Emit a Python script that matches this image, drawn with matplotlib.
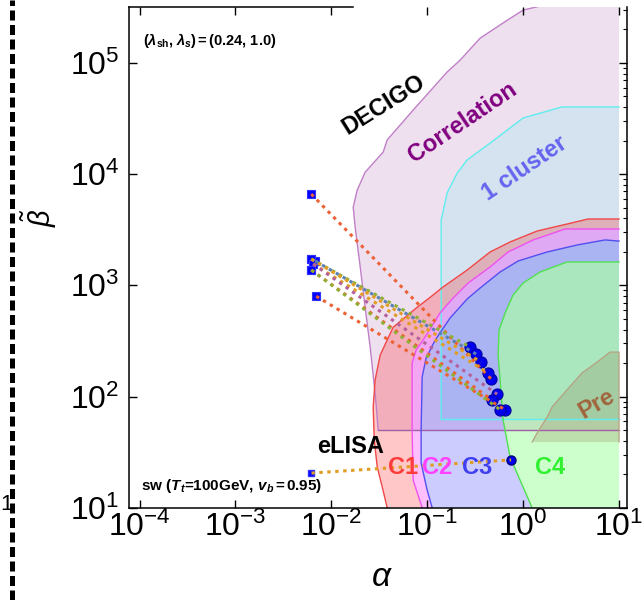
import numpy as np
import matplotlib
matplotlib.use("Agg")
import matplotlib.pyplot as plt
from matplotlib.lines import Line2D

plt.rcParams.update({
    "font.family": ["Liberation Sans", "DejaVu Sans"],
    "mathtext.fontset": "custom",
    "mathtext.rm": "Liberation Sans",
    "mathtext.it": "Liberation Sans:italic",
    "mathtext.bf": "Liberation Sans:bold",
    "mathtext.bfit": "Liberation Sans:italic:bold",
    "mathtext.sf": "Liberation Sans",
})

# ---- detector sensitivity regions, boundaries as (alpha, beta) ----
decigo_alpha = [0.0308, 0.0286, 0.0254, 0.0225, 0.0200, 0.0177, 0.0169, 0.0186, 0.0225,
                0.0347, 0.0382, 0.0713, 0.161, 0.220, 0.356, 0.618, 1.0, 2.05, 10.0]
decigo_beta = [50, 107, 277, 634, 1458, 3340, 5050, 7190, 10400,
               15800, 20300, 37700, 82800, 106000, 167000, 229000, 299000, 346000, 400000]
decigo_floor = 50.0

cluster_alpha = [0.1397, 0.1397, 0.161, 0.205, 0.260, 0.452, 1.0, 2.54, 10.0]
cluster_beta = [62.8, 3850, 6760, 10200, 13400, 19000, 32000, 40200, 40200]

c1_alpha = [0.0382, 0.0339, 0.0301, 0.0280, 0.0273, 0.0286, 0.0323, 0.0440, 0.0783,
            0.102, 0.146, 0.261, 0.452, 0.731, 1.40, 2.87, 4.75, 10.0]
c1_beta = [10, 15.4, 23.2, 40.6, 80.5, 141, 236, 419, 634,
           754, 966, 1374, 1995, 2455, 3080, 3560, 3950, 3950]

c2_alpha = [0.0885, 0.0713, 0.0695, 0.0695, 0.0766, 0.095, 0.136, 0.182, 0.267,
            0.452, 0.697, 1.27, 2.74, 10.0]
c2_beta = [10, 17.7, 50, 200, 262, 343, 564, 754, 1050, 1462, 1995, 2560, 3210, 3210]

c3_alpha = [0.1125, 0.0998, 0.0863, 0.0863, 0.0885, 0.0973, 0.121, 0.173, 0.261,
            0.356, 0.575, 0.887, 1.78, 3.66, 7.16, 10.0]
c3_beta = [10, 14.4, 25.2, 50, 150, 222, 322, 508, 754, 946, 1318, 1656, 1995, 2307, 2560, 2500]

c4_alpha = [1.24, 0.929, 0.731, 0.618, 0.575, 0.548, 0.561, 0.649, 0.785, 1.0, 1.50, 2.87, 10.0]
c4_beta = [10, 17.7, 28.6, 61.5, 141, 236, 396, 564, 818, 1050, 1318, 1622, 1622]

pre_alpha = [1.24, 1.40, 1.78, 2.00, 2.87, 4.11, 5.90, 8.05, 10.0, 10.0]
pre_beta = [39, 47, 65.5, 80.5, 115, 163, 204, 251, 251, 39]

# ---- benchmark points: start (square) -> end (circle) ----
start_alpha = [6.17e-3, 6.95e-3, 6.17e-3, 6.78e-3, 6.17e-3, 6.47e-3, 6.47e-3, 6.17e-3, 6.17e-3]
start_beta = [6620, 798, 1725, 1655, 1725, 1556, 1556, 1374, 1374]
end_alpha = [0.463, 0.649, 0.280, 0.323, 0.365, 0.432, 0.535, 0.474, 0.575]
end_beta = [144, 76, 279, 241, 204, 163, 105, 93, 76]
track_colors = ["#EB6235", "#EB6235", "#8FB032", "#5E81B5", "#E19C24",
                "#E19C24", "#B5609D", "#EB6235", "#8FB032"]

sw_alpha = [6.2e-3, 0.748]
sw_beta = [20.5, 26.9]

x_min, x_max = 10 ** -4.107, 10 ** 1.083
y_min, y_max = 10.0, 10 ** 5.503

fig = plt.figure(figsize=(6.44, 6.0), dpi=100)
ax = fig.add_axes([0.2008, 0.1538, 0.7728, 0.8345])
ax.set_xscale("log")
ax.set_yscale("log")
ax.set_xlim(x_min, x_max)
ax.set_ylim(y_min, y_max)

# DECIGO region
da = list(decigo_alpha) + [10.0]
db = list(decigo_beta) + [decigo_floor]
ax.fill(da, db, facecolor="#800080", alpha=0.12, lw=0, zorder=1)
ax.plot(decigo_alpha, decigo_beta, color="#C080C8", lw=1.0, zorder=1.5)
ax.plot([decigo_alpha[0], 10.0], [decigo_floor, decigo_floor], color="#A060A8", lw=1.0, zorder=1.5)

# 1 cluster region
ca = list(cluster_alpha) + [10.0]
cb = list(cluster_beta) + [cluster_beta[0]]
ax.fill(ca, cb, facecolor="#6EEBF0", alpha=0.2, lw=0, zorder=1.1)
ax.plot(cluster_alpha, cluster_beta, color="#5EEEEE", lw=1.0, zorder=1.5)
ax.plot([cluster_alpha[0], 10.0], [cluster_beta[0], cluster_beta[0]], color="#5EEEEE", lw=1.0, zorder=1.5)


def band(outer_a, outer_b, inner_a, inner_b):
    return (np.concatenate([outer_a, inner_a[::-1]]),
            np.concatenate([outer_b, inner_b[::-1]]))


bands = [
    (band(c1_alpha, c1_beta, c2_alpha, c2_beta), "#FF0000", 0.22),
    (band(c2_alpha, c2_beta, c3_alpha, c3_beta), "#FF00FF", 0.25),
    (band(c3_alpha, c3_beta, c4_alpha, c4_beta), "#0000FF", 0.20),
    ((np.array(c4_alpha + [10.0]), np.array(c4_beta + [10.0])), "#00FF00", 0.20),
]
for (bx, by), col, a in bands:
    ax.fill(bx, by, facecolor=col, alpha=a, lw=0, zorder=1.2)

for xs, ys, col in [(c1_alpha, c1_beta, "#F04848"), (c2_alpha, c2_beta, "#F050F0"),
                    (c3_alpha, c3_beta, "#5050F0"), (c4_alpha, c4_beta, "#50E050")]:
    ax.plot(xs, ys, color=col, lw=1.0, zorder=1.6)

ax.fill(pre_alpha, pre_beta, facecolor="#8C7040", alpha=0.22, lw=0, zorder=1.3)
ax.plot(pre_alpha, pre_beta, color="#B8A080", lw=0.9, zorder=1.6)

# benchmark tracks
ax.plot(start_alpha, start_beta, ls="none", marker="s", ms=5.5, mfc="#0000FF", mec="#3030FF", mew=0.8, zorder=3)
ax.plot(end_alpha, end_beta, ls="none", marker="o", ms=8, mfc="#0000EE", mec="#0000A0", mew=0.8, zorder=3)
for i in range(len(start_alpha)):
    ax.plot([start_alpha[i], end_alpha[i]], [start_beta[i], end_beta[i]],
            color=track_colors[i], lw=2.2, ls=(0, (1.1, 1.5)), zorder=4)

ax.plot(sw_alpha[:1], sw_beta[:1], ls="none", marker="s", ms=5.0, mfc="#0000FF", mec="#3030FF", zorder=3)
ax.plot(sw_alpha[1:], sw_beta[1:], ls="none", marker="o", ms=6.5, mfc="#0000EE", mec="#000080", zorder=3)
ax.plot(sw_alpha, sw_beta, color="#E19C24", lw=2.2, ls=(0, (1.1, 1.5)), zorder=4)

# labels on the plane
lab = dict(fontweight="bold", ha="center", va="center", rotation_mode="anchor", zorder=6)
ax.text(0.0347, 41900, "DECIGO", fontsize=17, color="black", rotation=32, **lab)
ax.text(0.231, 29400, "Correlation", fontsize=17, color="#800080", rotation=34, **lab)
ax.text(1.047, 11350, "1 cluster", fontsize=17, color="#6464F0", rotation=34, **lab)
ax.text(5.9, 85.5, "Pre", fontsize=17, color="#A0643C", rotation=30, **lab)
ax.text(0.0157, 35.2, "eLISA", fontsize=17, color="black", **lab)
ax.text(0.0558, 23.2, "C1", fontsize=17, color="#FF3C3C", **lab)
ax.text(0.127, 23.2, "C2", fontsize=17, color="#FF40FF", **lab)
ax.text(0.331, 23.2, "C3", fontsize=17, color="#4040F0", **lab)
ax.text(1.91, 23.2, "C4", fontsize=17, color="#30F030", **lab)

ax.text(1.09e-4, 1.6e5,
        r"($\mathbfit{\lambda}_{\mathbf{sh}}$, $\mathbfit{\lambda}_{\mathbfit{s}}$)$\,$=$\,$(0.24, 1.0)",
        fontsize=10.5, fontweight="bold", ha="left", va="center", zorder=6)
ax.text(1.034e-4, 15.7,
        r"sw ($\mathbfit{T}_{\mathbfit{t}}$=100GeV, $\mathbfit{v}_{\mathbfit{b}}$$\,$=$\,$0.95)",
        fontsize=11, fontweight="bold", ha="left", va="center", zorder=6)

# frame and ticks
for s in ax.spines.values():
    s.set_linewidth(1.1)
ax.spines["top"].set_bounds(x_min, 0.01687)
ax.tick_params(which="major", direction="in", length=6, width=1.0, labelsize=23,
               top=True, right=True, bottom=True, left=True)
ax.tick_params(which="minor", direction="in", length=3, width=0.8,
               top=True, right=True, bottom=False, left=False)
ax.tick_params(axis="x", pad=3)
ax.tick_params(axis="y", pad=7)
ax.set_xticks([1e-4, 1e-3, 1e-2, 1e-1, 1, 10])
ax.set_yticks([10, 1e2, 1e3, 1e4, 1e5])

fig.text(382 / 644, 1 - 577 / 600, r"$\alpha$", fontsize=24, ha="center", va="center")
fig.text(39 / 644, 1 - 218 / 600, r"$\tilde{\beta}$", fontsize=21, ha="center", va="center", rotation=90)

# neighbouring panel edge
fig.text(6 / 644, 1 - 505 / 600, "1", fontsize=16, ha="center", va="center", zorder=4)
fig.add_artist(Line2D([12 / 644, 12 / 644], [0, 1], transform=fig.transFigure, color="black",
                      lw=3.6, ls=(0, (2.0, 0.9)), zorder=5))

fig.savefig("out.png", dpi=100)
